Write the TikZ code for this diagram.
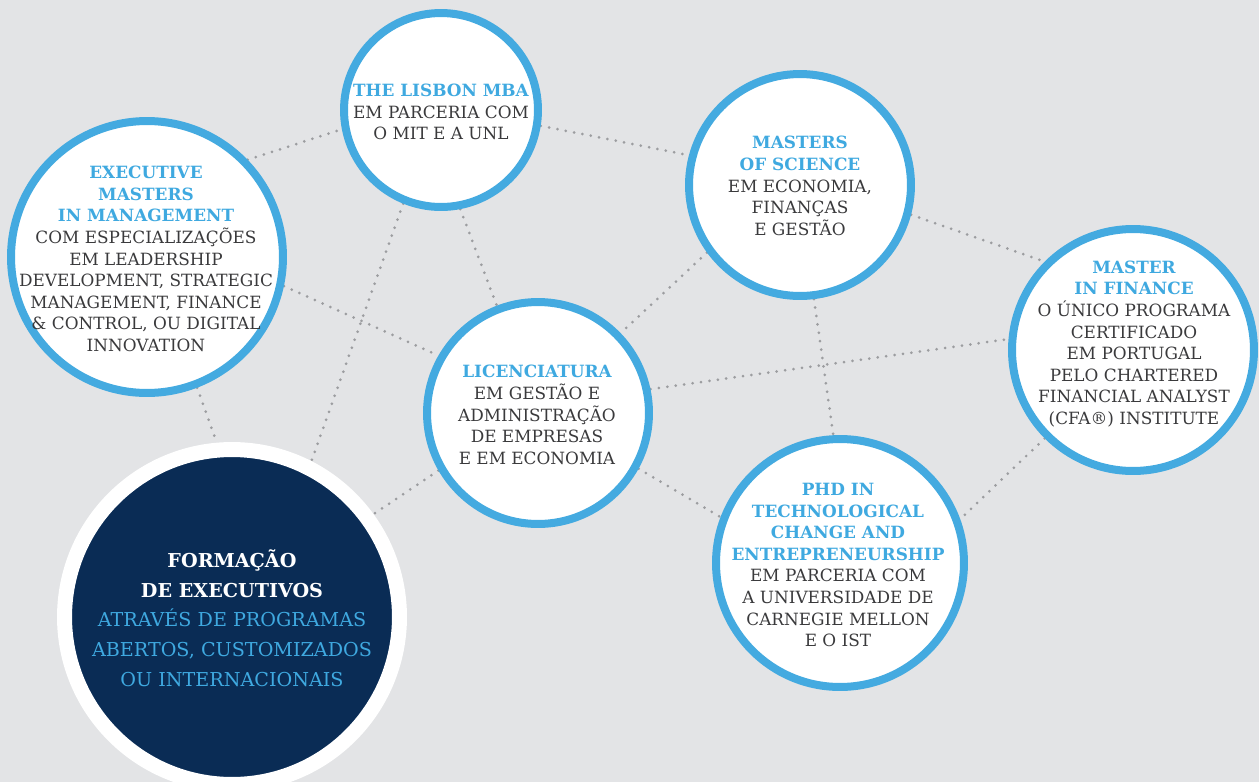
\documentclass[tikz,border=0pt]{standalone}
\usepackage{fontspec}
\setmainfont{DejaVu Serif}
\usetikzlibrary{backgrounds}
\definecolor{bgcol}{HTML}{E3E4E6}
\definecolor{ringblue}{HTML}{44AAE0}
\definecolor{hdblue}{HTML}{3FA9E0}
\definecolor{bodygray}{HTML}{3A3A3C}
\definecolor{navy}{HTML}{0A2C55}
\definecolor{dotgray}{HTML}{9C9DA0}
\newcommand{\hd}[1]{\textcolor{hdblue}{\bfseries #1}}
\newcommand{\hw}[1]{\textcolor{white}{\bfseries #1}}
\tikzset{
  bub/.style={circle, draw=ringblue, fill=white, line width=0.16cm, inner sep=0pt},
  darkbub/.style={circle, draw=white, fill=navy, line width=0.3cm, inner sep=0pt},
  txt/.style={inner sep=0pt, align=center, text=bodygray, font=\fontsize{9.6}{12.3}\selectfont},
  darktxt/.style={inner sep=0pt, align=center, text=hdblue, font=\fontsize{10.9}{16.9}\selectfont},
  dots/.style={draw=dotgray, line width=0.06cm, line cap=round, dash pattern=on 0pt off 0.17cm}
}
\begin{document}
\begin{tikzpicture}[x=0.02cm,y=-0.02cm]
\useasboundingbox (0,0) rectangle (1259,782);

\node[bub, minimum size=5.44cm] (exec) at (147,257) {};
\node[bub, minimum size=3.88cm] (lisbon) at (441,110) {};
\node[bub, minimum size=4.44cm] (msc) at (800,185) {};
\node[bub, minimum size=4.84cm] (fin) at (1133,350) {};
\node[bub, minimum size=4.44cm] (lic) at (538,413) {};
\node[bub, minimum size=4.96cm] (phd) at (840,563) {};
\node[darkbub, minimum size=6.7cm] (form) at (232,617) {};

\node[txt] (exec-t) at (146,259)
  {\hd{EXECUTIVE}\\\hd{MASTERS}\\\hd{IN MANAGEMENT}\\COM ESPECIALIZAÇÕES\\EM LEADERSHIP\\DEVELOPMENT, STRATEGIC\\MANAGEMENT, FINANCE\\\& CONTROL, OU DIGITAL\\INNOVATION};
\node[txt] (lisbon-t) at (441,112)
  {\hd{THE LISBON MBA}\\EM PARCERIA COM\\O MIT E A UNL};
\node[txt] (msc-t) at (800,186)
  {\hd{MASTERS}\\\hd{OF SCIENCE}\\EM ECONOMIA,\\FINANÇAS\\E GESTÃO};
\node[txt] (fin-t) at (1134,344)
  {\hd{MASTER}\\\hd{IN FINANCE}\\O ÚNICO PROGRAMA\\CERTIFICADO\\EM PORTUGAL\\PELO CHARTERED\\FINANCIAL ANALYST\\(CFA®) INSTITUTE};
\node[txt] (lic-t) at (537,415)
  {\hd{LICENCIATURA}\\EM GESTÃO E\\ADMINISTRAÇÃO\\DE EMPRESAS\\E EM ECONOMIA};
\node[txt] (phd-t) at (838,565)
  {\hd{PHD IN}\\\hd{TECHNOLOGICAL}\\\hd{CHANGE AND}\\\hd{ENTREPRENEURSHIP}\\EM PARCERIA COM\\A UNIVERSIDADE DE\\CARNEGIE MELLON\\E O IST};
\node[darktxt] (form-t) at (232,618)
  {\hw{FORMAÇÃO}\\\hw{DE EXECUTIVOS}\\ATRAVÉS DE PROGRAMAS\\ABERTOS, CUSTOMIZADOS\\OU INTERNACIONAIS};

\begin{scope}[on background layer]
  \fill[bgcol] (0,0) rectangle (1259,782);
  \draw[dots] (exec.44) -- (lisbon.191);
  \draw[dots] (lisbon.351) -- (msc.165);
  \draw[dots] (msc.345) -- (fin.135);
  \draw[dots] (exec.348) -- (lic.150);
  \draw[dots] (lisbon.281) -- (lic.111);
  \draw[dots] (lisbon.248) -- (form.63);
  \draw[dots] (exec.291) -- (form.95);
  \draw[dots] (lic.210) -- (form.36);
  \draw[dots] (msc.216) -- (lic.44);
  \draw[dots] (msc.277) -- (phd.93);
  \draw[dots] (lic.12) -- (fin.175);
  \draw[dots] (lic.331) -- (phd.159);
  \draw[dots] (fin.225) -- (phd.20);
\end{scope}
\end{tikzpicture}
\end{document}
